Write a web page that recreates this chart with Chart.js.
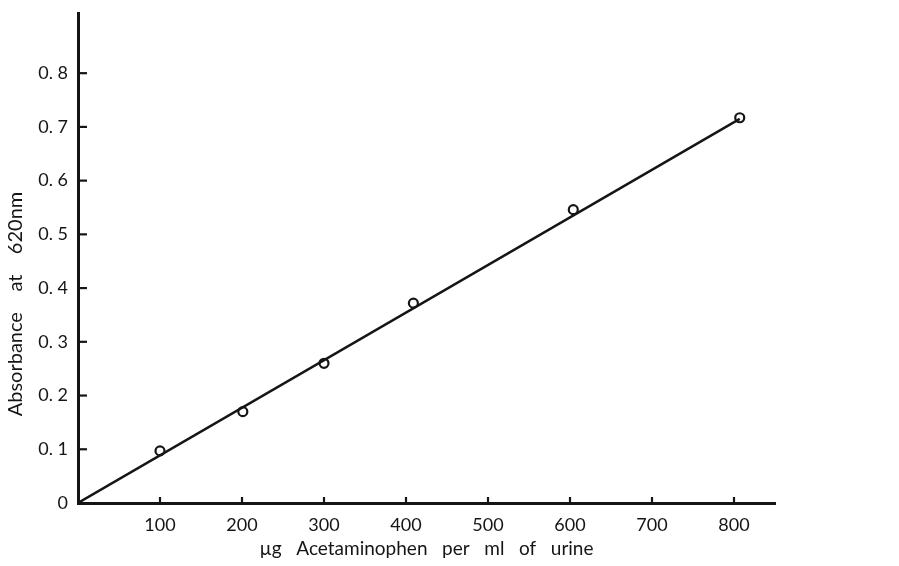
<!DOCTYPE html>
<html>
<head>
<meta charset="utf-8">
<script src="https://cdn.jsdelivr.net/npm/chart.js@4/dist/chart.umd.min.js"></script>
<style>
  body { margin: 0; background: #fff; }
</style>
</head>
<body>
<canvas id="chart" width="899" height="566"></canvas>
<script>
'use strict';

// measured points
const concValues = [100, 201, 300, 409, 604, 807];
const absValues = [0.097, 0.170, 0.260, 0.372, 0.546, 0.717];

// fitted line (drawn by hand on the original)
const fitX = [0, 807];
const fitY = [0, 0.715];

const xTickValues = [100, 200, 300, 400, 500, 600, 700, 800];
const yTickValues = [0, 0.1, 0.2, 0.3, 0.4, 0.5, 0.6, 0.7, 0.8];
const yTickLabels = ['0', '0. 1', '0. 2', '0. 3', '0. 4', '0. 5', '0. 6', '0. 7', '0. 8'];

const xTitle = 'µg   Acetaminophen   per   ml   of   urine';
const yTitle = 'Absorbance    at    620nm';

const ink = '#151515';
const fontFam = 'Lato, "DejaVu Sans", sans-serif';

// tick marks point inward on this chart, and the y title sits low
const innerTicks = {
  id: 'innerTicks',
  afterDraw(chart) {
    const ctx = chart.ctx;
    const xs = chart.scales.x, ys = chart.scales.y;
    ctx.save();
    ctx.strokeStyle = ink;
    ctx.lineWidth = 2.2;
    for (let v of xTickValues) {
      let px = xs.getPixelForValue(v);
      ctx.beginPath();
      ctx.moveTo(px, ys.bottom);
      ctx.lineTo(px, ys.bottom - 6);
      ctx.stroke();
    }
    for (let v of yTickValues) {
      if (v === 0) continue;
      let py = ys.getPixelForValue(v);
      ctx.beginPath();
      ctx.moveTo(xs.left, py);
      ctx.lineTo(xs.left + 9, py);
      ctx.stroke();
    }
    ctx.translate(16, 304);
    ctx.rotate(-Math.PI / 2);
    ctx.fillStyle = ink;
    ctx.font = '20px ' + fontFam;
    ctx.textAlign = 'center';
    ctx.textBaseline = 'middle';
    ctx.fillText(yTitle, 0, 0);
    ctx.restore();
  }
};

new Chart(document.getElementById('chart').getContext('2d'), {
  type: 'scatter',
  data: {
    datasets: [
      {
        label: 'fit',
        type: 'line',
        data: fitX.map((x, i) => ({ x: x, y: fitY[i] })),
        borderColor: ink,
        borderWidth: 2.4,
        pointRadius: 0,
        fill: false,
        tension: 0
      },
      {
        label: 'measured',
        data: concValues.map((x, i) => ({ x: x, y: absValues[i] })),
        pointRadius: 4.5,
        pointBorderWidth: 2.2,
        pointBackgroundColor: '#fff',
        pointBorderColor: ink
      }
    ]
  },
  options: {
    responsive: false,
    animation: false,
    layout: { padding: { left: 0, top: 13, right: 124, bottom: 0 } },
    plugins: {
      legend: { display: false },
      tooltip: { enabled: false }
    },
    scales: {
      x: {
        type: 'linear',
        min: 0,
        max: 850,
        afterBuildTicks: s => { s.ticks = xTickValues.map(v => ({ value: v })); },
        afterFit: s => { s.height = 63; },
        grid: { drawOnChartArea: false, drawTicks: false },
        border: { display: true, color: ink, width: 3 },
        ticks: { color: ink, padding: 11, font: { family: fontFam, size: 18 } },
        title: {
          display: true,
          text: xTitle,
          color: ink,
          padding: { top: 2, bottom: 6 },
          font: { family: fontFam, size: 19 }
        }
      },
      y: {
        type: 'linear',
        min: 0,
        max: 0.912,
        afterBuildTicks: s => { s.ticks = yTickValues.map(v => ({ value: v })); },
        afterFit: s => { s.width = 78; s.paddingTop = 0; },
        grid: { drawOnChartArea: false, drawTicks: false },
        border: { display: true, color: ink, width: 3 },
        ticks: {
          color: ink,
          padding: 10,
          font: { family: fontFam, size: 18 },
          callback: (v, i) => yTickLabels[i]
        }
      }
    }
  },
  plugins: [innerTicks]
});
</script>
</body>
</html>
